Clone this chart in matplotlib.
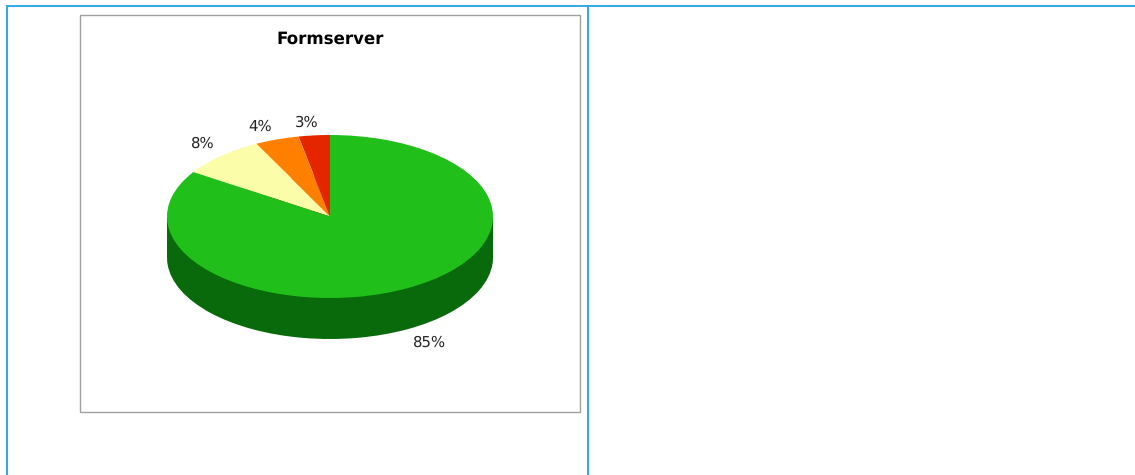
from matplotlib import pyplot as plt
from matplotlib.patches import Rectangle

plt.rcParams["text.hinting"] = "no_hinting"

W, H = 1135, 475

title = "Formserver"
# counter clockwise from 12 o'clock, shares read from the slice edges
shares = [3.1, 4.4, 8.4, 84.6]
pct_labels = ["3%", "4%", "8%", "85%"]
top_colors = ["#E52500", "#FF7F00", "#FBFDA8", "#20BF1A"]
side_colors = ["#8A1600", "#994C00", "#979865", "#086A0A"]

label_pos = [(306.5, 122.5), (260, 126.5), (202.5, 144), (429.5, 343)]

cx, cy, rx, ry, depth = 330, 216.5, 163, 81.5, 41
margin = 1.05


def pie_axes(center_y, colors):
    # pixel box of the ellipse, figure coords have y going up
    left = (cx - rx * margin) / W
    bottom = 1 - (center_y + ry * margin) / H
    a = fig.add_axes([left, bottom, 2 * rx * margin / W, 2 * ry * margin / H])
    a.pie(shares, colors=colors, startangle=90, counterclock=True, radius=1)
    a.set_aspect("auto")
    a.set_xlim(-margin, margin)
    a.set_ylim(-margin, margin)
    a.patch.set_alpha(0)
    return a


fig = plt.figure(figsize=(W / 100, H / 100), dpi=100, facecolor="white")

ax = fig.add_axes([0, 0, 1, 1])
ax.set_xlim(0, W)
ax.set_ylim(H, 0)
ax.axis("off")

# page table borders
blue = "#36A9E8"
ax.plot([6, W], [6, 6], color=blue, lw=1.44, solid_capstyle="butt")
ax.plot([7, 7], [5, H], color=blue, lw=1.44, solid_capstyle="butt")
ax.plot([588, 588], [5, H], color=blue, lw=1.44, solid_capstyle="butt")

# chart frame
ax.add_patch(Rectangle((80, 15), 499.5, 396.5, fc="white", ec="#A0A0A0", lw=1))

ax.text(330, 39.5, title, ha="center", va="center", fontsize=12,
        fontweight="bold", color="black", family="DejaVu Sans")

for lab, (x, y) in zip(pct_labels, label_pos):
    ax.text(x, y, lab, ha="center", va="center", fontsize=10.7, color="#222222",
            family="DejaVu Sans")

# 3d side: lower ellipse plus the band up to the top face
ax.add_patch(Rectangle((cx - rx, cy), 2 * rx, depth, fc=side_colors[3], ec="none"))
pie_axes(cy + depth, side_colors)
pie_axes(cy, top_colors)

fig.savefig("out.png", dpi=100)
